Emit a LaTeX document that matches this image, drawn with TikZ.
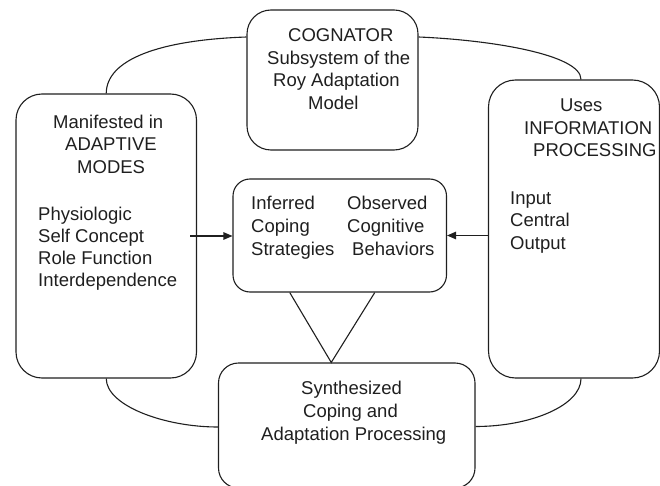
\documentclass[tikz,border=0pt]{standalone}
\usepackage{fontspec}
\setmainfont{Liberation Sans}
\usetikzlibrary{arrows.meta}
% leading indent inside a left-aligned line
\newcommand\ind[1]{\hspace*{#1pt}}
\begin{document}
\begin{tikzpicture}[x=1pt,y=-1pt,
  box/.style={draw=black!88, line width=1.1pt, inner sep=0pt},
  link/.style={draw=black!88, line width=1.1pt},
  feed/.style={link, -{Triangle[length=9pt,width=7.5pt]}},
  label/.style={inner sep=0pt, anchor=base west, text=black!88,
    font=\fontsize{18.5}{22.5}\selectfont},
]
\useasboundingbox (0,0) rectangle (660,486);

% the five rounded boxes
\node[box, rounded corners=24pt, minimum width=171pt, minimum height=140pt] (cog) at (332.5,80) {};
\node[box, rounded corners=26pt, minimum width=180.5pt, minimum height=284pt] (modes) at (106.25,236) {};
\node[box, rounded corners=27pt, minimum width=171pt, minimum height=298pt] (info) at (574,229) {};
\node[box, rounded corners=17pt, minimum width=213.5pt, minimum height=113pt] (cope) at (339.75,235.5) {};
\node[box, rounded corners=20pt, minimum width=256.5pt, minimum height=125pt] (synth) at (346.75,425.5) {};

% texts
\node[label] (cogtxt) at (267,42) {\begin{tabular}[t]{@{}l@{}}\ind{21}COGNATOR\\Subsystem of the\\\ind{6}Roy Adaptation\\\ind{41}Model\end{tabular}};
\node[label] (modehead) at (53,128.3) {\begin{tabular}[t]{@{}l@{}}Manifested in\\\ind{12}ADAPTIVE\\\ind{24}MODES\end{tabular}};
\node[label, font=\fontsize{18.5}{22}\selectfont] (modelist) at (38,220) {\begin{tabular}[t]{@{}l@{}}Physiologic\\Self Concept\\Role Function\\Interdependence\end{tabular}};
\node[label] (infohead) at (524,111.7) {\begin{tabular}[t]{@{}l@{}}\ind{36}Uses\\INFORMATION\\\ind{9}PROCESSING\end{tabular}};
\node[label] (infolist) at (510,204.3) {\begin{tabular}[t]{@{}l@{}}Input\\Central\\Output\end{tabular}};
\node[label, font=\fontsize{18.5}{23}\selectfont] (inferred) at (251,209) {\begin{tabular}[t]{@{}l@{}}Inferred\\Coping\\Strategies\end{tabular}};
\node[label, font=\fontsize{18.5}{23}\selectfont] (observed) at (347,209) {\begin{tabular}[t]{@{}l@{}}Observed\\Cognitive\\\ind{5}Behaviors\end{tabular}};
\node[label, font=\fontsize{18.5}{23}\selectfont] (synthtxt) at (261,394) {\begin{tabular}[t]{@{}l@{}}\ind{40}Synthesized\\\ind{42}Coping and\\Adaptation Processing\end{tabular}};

% outer ring of curved links
\draw[link] ([yshift=43pt]cog.west) .. controls +(-87,3) and +(0,-34) .. (modes.north);
\draw[link] ([yshift=43pt]cog.east) .. controls +(72,3) and +(0,-25) .. ([xshift=7pt]info.north);
\draw[link] (modes.south) .. controls +(0,27) and +(-54,0) .. ([yshift=-1.5pt]synth.west);
\draw[link] ([yshift=-1pt]synth.east) .. controls +(55,0) and +(0,27) .. ([xshift=7pt]info.south);

% the V joining the centre box to the synthesis box
\draw[link] ([xshift=-50pt]cope.south) -- ([xshift=-15.5pt]synth.north) -- ([xshift=35pt]cope.south);

% arrows into the centre box
\draw[feed] ([xshift=-7pt]modes.east) -- (modes.east -| cope.west);
\draw[feed] (info.west |- cope.west) -- (cope.east);
\end{tikzpicture}
\end{document}
